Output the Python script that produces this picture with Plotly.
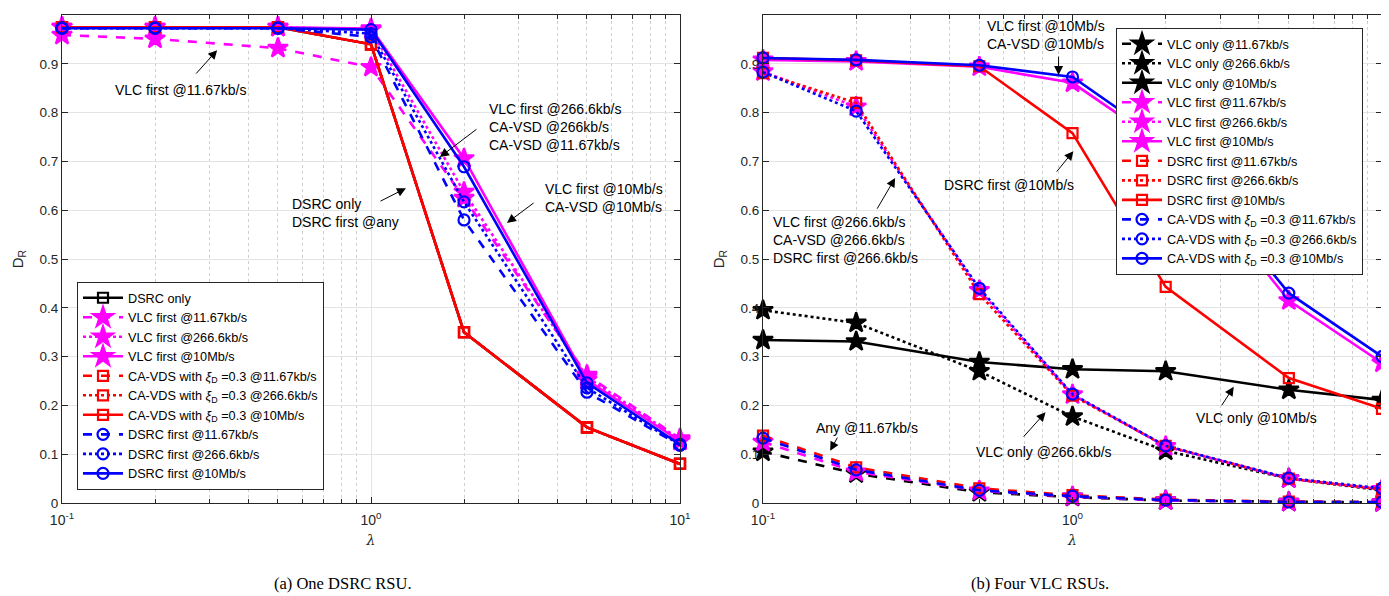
import plotly.graph_objects as go

lam = [0.1, 0.2, 0.5, 1, 2, 5, 10]

# ---- (a) One DSRC RSU ----
a_dsrc_only = [0.975, 0.975, 0.975, 0.94, 0.35, 0.155, 0.08]
a_vlc_first_11 = [0.959, 0.951, 0.932, 0.893, 0.625, 0.262, 0.132]
a_vlc_first_266 = [0.975, 0.975, 0.975, 0.97, 0.637, 0.258, 0.13]
a_vlc_first_10 = [0.975, 0.975, 0.975, 0.972, 0.706, 0.252, 0.127]
a_cavds_11 = [0.975, 0.975, 0.975, 0.94, 0.35, 0.155, 0.08]
a_cavds_266 = [0.975, 0.975, 0.975, 0.94, 0.35, 0.155, 0.08]
a_cavds_10 = [0.975, 0.975, 0.975, 0.94, 0.35, 0.155, 0.08]
a_dsrc_first_11 = [0.973, 0.973, 0.973, 0.955, 0.58, 0.227, 0.118]
a_dsrc_first_266 = [0.973, 0.973, 0.973, 0.962, 0.617, 0.236, 0.119]
a_dsrc_first_10 = [0.973, 0.973, 0.973, 0.97, 0.689, 0.246, 0.12]

# ---- (b) Four VLC RSUs ----
b_vlc_only_11 = [0.105, 0.06, 0.022, 0.012, 0.005, 0.002, 0.001]
b_vlc_only_266 = [0.395, 0.369, 0.27, 0.177, 0.107, 0.05, 0.026]
b_vlc_only_10 = [0.334, 0.331, 0.289, 0.274, 0.27, 0.232, 0.211]
b_vlc_first_11 = [0.125, 0.064, 0.025, 0.013, 0.005, 0.002, 0.001]
b_vlc_first_266 = [0.884, 0.812, 0.436, 0.222, 0.116, 0.05, 0.028]
b_vlc_first_10 = [0.908, 0.905, 0.894, 0.861, 0.73, 0.415, 0.287]
b_dsrc_first_11 = [0.138, 0.073, 0.03, 0.016, 0.007, 0.003, 0.002]
b_dsrc_first_266 = [0.881, 0.82, 0.428, 0.22, 0.117, 0.05, 0.028]
b_dsrc_first_10 = [0.912, 0.907, 0.895, 0.758, 0.443, 0.256, 0.193]
b_cavds_11 = [0.133, 0.068, 0.026, 0.014, 0.006, 0.002, 0.002]
b_cavds_266 = [0.883, 0.803, 0.44, 0.223, 0.117, 0.051, 0.03]
b_cavds_10 = [0.912, 0.908, 0.897, 0.873, 0.74, 0.43, 0.3]

xi = "CA-VDS with <i>ξ</i><sub>D</sub> =0.3"
a_names = ["DSRC only", "VLC first @11.67kb/s", "VLC first @266.6kb/s", "VLC first @10Mb/s",
           xi + " @11.67kb/s", xi + " @266.6kb/s", xi + " @10Mb/s",
           "DSRC first @11.67kb/s", "DSRC first @266.6kb/s", "DSRC first @10Mb/s"]
b_names = ["VLC only @11.67kb/s", "VLC only @266.6kb/s", "VLC only @10Mb/s",
           "VLC first @11.67kb/s", "VLC first @266.6kb/s", "VLC first @10Mb/s",
           "DSRC first @11.67kb/s", "DSRC first @266.6kb/s", "DSRC first @10Mb/s",
           xi + " @11.67kb/s", xi + " @266.6kb/s", xi + " @10Mb/s"]

BLK, MAG, RED, BLU = "#000000", "#FF00FF", "#FF0000", "#0000FF"
MK = {"star": ("star", 15), "sq": ("square-open", 10), "ci": ("circle-open", 11)}

fig = go.Figure()


def add(y, name, color, dash, mk, xa, ya, leg):
    sym, size = MK[mk]
    fig.add_trace(go.Scatter(
        x=lam, y=y, name=name, mode="lines+markers", xaxis=xa, yaxis=ya, legend=leg,
        cliponaxis=False,
        line=dict(color=color, width=2.6, dash=dash),
        marker=dict(symbol=sym, size=size, color=color, line=dict(color=color, width=2.2))))


a_series = [(a_dsrc_only, BLK, "solid", "sq"),
            (a_vlc_first_11, MAG, "dash", "star"), (a_vlc_first_266, MAG, "dot", "star"),
            (a_vlc_first_10, MAG, "solid", "star"),
            (a_cavds_11, RED, "dash", "sq"), (a_cavds_266, RED, "dot", "sq"), (a_cavds_10, RED, "solid", "sq"),
            (a_dsrc_first_11, BLU, "dash", "ci"), (a_dsrc_first_266, BLU, "dot", "ci"),
            (a_dsrc_first_10, BLU, "solid", "ci")]
for (y, c, d, m), n in zip(a_series, a_names):
    add(y, n, c, d, m, "x", "y", "legend")

b_series = [(b_vlc_only_11, BLK, "dash", "star"), (b_vlc_only_266, BLK, "dot", "star"),
            (b_vlc_only_10, BLK, "solid", "star"),
            (b_vlc_first_11, MAG, "dash", "star"), (b_vlc_first_266, MAG, "dot", "star"),
            (b_vlc_first_10, MAG, "solid", "star"),
            (b_dsrc_first_11, RED, "dash", "sq"), (b_dsrc_first_266, RED, "dot", "sq"),
            (b_dsrc_first_10, RED, "solid", "sq"),
            (b_cavds_11, BLU, "dash", "ci"), (b_cavds_266, BLU, "dot", "ci"), (b_cavds_10, BLU, "solid", "ci")]
for (y, c, d, m), n in zip(b_series, b_names):
    add(y, n, c, d, m, "x2", "y2", "legend2")

FONT = "Liberation Sans"
AX = "#262626"
minor_vals = [0.2, 0.3, 0.4, 0.5, 0.6, 0.7, 0.8, 0.9, 2, 3, 4, 5, 6, 7, 8, 9]
xt_vals = [0.1, 1, 10]
xt_text = ["10<sup>-1</sup>", "10<sup>0</sup>", "10<sup>1</sup>"]
yt_vals = [0, 0.1, 0.2, 0.3, 0.4, 0.5, 0.6, 0.7, 0.8, 0.9, 1]
yt_text = ["0", "0.1", "0.2", "0.3", "0.4", "0.5", "0.6", "0.7", "0.8", "0.9", "1"]

# page has an 8px body margin: figure is placed at (8, 8) in the window
OFF = 8
W, H = 1389 - OFF, 596 - OFF


def px(xp):
    return (xp - OFF) / W


def py(yp):
    return 1 - (yp - OFF) / H


def xaxis(domain, anchor):
    return dict(type="log", domain=domain, anchor=anchor, range=[-1, 1], automargin=False,
                tickvals=xt_vals, ticktext=xt_text, ticks="inside", ticklen=6, tickcolor=AX,
                showline=True, linecolor=AX, linewidth=1.2, mirror="ticks",
                showgrid=True, gridcolor="#E3E3E3", gridwidth=1, zeroline=False,
                ticklabelstandoff=4,
                minor=dict(tickvals=minor_vals, ticks="inside", ticklen=4, tickcolor=AX,
                           showgrid=True, gridcolor="#CFCFCF", griddash="dot", gridwidth=1),
                tickfont=dict(family=FONT, size=14, color=AX),
                title=dict(text="<i>λ</i>", font=dict(family="DejaVu Serif", size=14, color=AX), standoff=8))


def yaxis(domain, anchor):
    return dict(domain=domain, anchor=anchor, range=[0, 1], tickvals=yt_vals, ticktext=yt_text,
                automargin=False,
                ticks="inside", ticklen=6, tickcolor=AX,
                showline=True, linecolor=AX, linewidth=1.2, mirror="ticks",
                showgrid=True, gridcolor="#E3E3E3", gridwidth=1, zeroline=False,
                tickfont=dict(family=FONT, size=13.5, color=AX),
                title=dict(text="D<sub>R</sub>", font=dict(family=FONT, size=15, color=AX), standoff=12))


ydom = [py(503), py(15)]

leg_common = dict(bgcolor="white", bordercolor=AX, borderwidth=1,
                  font=dict(family=FONT, size=12.7, color="#000000"),
                  xanchor="left", tracegroupgap=0, itemwidth=40)

fig.update_layout(
    width=W, height=H, margin=dict(l=0, r=0, t=0, b=0),
    paper_bgcolor="white", plot_bgcolor="white",
    xaxis=xaxis([px(62), px(680)], "y"), yaxis=yaxis(ydom, "x"),
    xaxis2=xaxis([px(763), px(1382)], "y2"), yaxis2=yaxis(ydom, "x2"),
    legend=dict(x=px(77), y=py(490), yanchor="bottom", **leg_common),
    legend2=dict(x=px(1116), y=py(28), yanchor="top", **leg_common),
    font=dict(family=FONT),
)

ann = []
TF = dict(family=FONT, size=14, color="#000000")


def text(xr, yr, x, y, t, anchor="left"):
    ann.append(dict(xref=xr, yref=yr, x=x, y=y, text=t, showarrow=False, xanchor=anchor,
                    yanchor="middle", align="left", font=TF))


def arrow(xr, yr, hx, hy, tx, ty):
    ann.append(dict(xref=xr, yref=yr, axref=xr, ayref=yr, x=hx, y=hy, ax=tx, ay=ty, text="",
                    showarrow=True, arrowhead=2, arrowsize=1.8, arrowwidth=1, arrowcolor="#000000"))


# (a) annotations
text("x", "y", -0.618, 0.846, "VLC first @11.67kb/s", "center")
arrow("x", "y", -0.498, 0.928, -0.570, 0.877)
text("x", "y", 0.375, 0.770, "VLC first @266.6kb/s<br>CA-VSD @266kb/s<br>CA-VSD @11.67kb/s")
arrow("x", "y", 0.223, 0.709, 0.346, 0.768)
text("x", "y", -0.262, 0.595, "DSRC only<br>DSRC first @any")
arrow("x", "y", 0.113, 0.645, 0.026, 0.617)
text("x", "y", 0.557, 0.624, "VLC first @10Mb/s<br>CA-VSD @10Mb/s")
arrow("x", "y", 0.440, 0.574, 0.531, 0.617)

# (b) annotations
text("x2", "y2", -0.282, 0.958, "VLC first @10Mb/s<br>CA-VSD @10Mb/s")
arrow("x2", "y2", -0.045, 0.877, -0.045, 0.918)
text("x2", "y2", -0.421, 0.652, "DSRC first @10Mb/s")
arrow("x2", "y2", 0.003, 0.721, -0.055, 0.676)
text("x2", "y2", -0.974, 0.539, "VLC first @266.6kb/s<br>CA-VSD @266.6kb/s<br>DSRC first @266.6kb/s")
arrow("x2", "y2", -0.573, 0.666, -0.634, 0.600)
text("x2", "y2", -0.835, 0.154, "Any @11.67kb/s")
arrow("x2", "y2", -0.783, 0.107, -0.757, 0.137)
text("x2", "y2", -0.317, 0.105, "VLC only @266.6kb/s")
arrow("x2", "y2", -0.087, 0.186, -0.162, 0.133)
text("x2", "y2", 0.392, 0.174, "VLC only @10Mb/s")
arrow("x2", "y2", 0.521, 0.238, 0.479, 0.197)

# captions
CF = dict(family="Liberation Serif", size=16.5, color="#000000")
ann.append(dict(xref="paper", yref="paper", x=px(343), y=py(583), text="(a) One DSRC RSU.",
                showarrow=False, xanchor="center", yanchor="middle", font=CF))
ann.append(dict(xref="paper", yref="paper", x=px(1040), y=py(583), text="(b) Four VLC RSUs.",
                showarrow=False, xanchor="center", yanchor="middle", font=CF))

fig.update_layout(annotations=ann)
fig.write_html("out.html")
